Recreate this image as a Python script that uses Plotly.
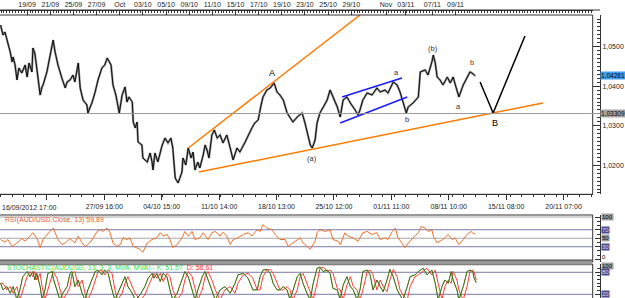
import plotly.graph_objects as go
from datetime import datetime, timedelta

# ---------------- data (hourly bar index since 16/09/2012 17:00) ----------------
price_bar = [0, 5, 9, 15, 20, 24, 26, 30, 34, 38,
             44, 51, 55, 59, 65, 67, 71, 75, 82, 86,
             88, 96, 102, 109, 113, 119, 127, 134, 138, 144,
             150, 154, 161, 165, 171, 179, 181, 190, 196, 202,
             210, 216, 221, 229, 233, 239, 246, 252, 258, 262,
             266, 273, 275, 279, 283, 285, 293, 295, 304, 310,
             314, 316, 320, 326, 335, 341, 347, 353, 357, 360,
             362, 368, 372, 376, 378, 384, 389, 395, 399, 403,
             409, 413, 420, 424, 428, 432, 438, 443, 449, 455,
             461, 469, 476, 482, 490, 496, 507, 515, 521, 527,
             534, 540, 544, 552, 559, 567, 573, 579, 586, 594,
             600, 606, 615, 625, 631, 637, 642, 646, 652, 656,
             662, 669, 677, 683, 689, 698, 704, 710, 718, 725,
             735, 741, 745, 751, 760, 770, 780, 787, 797, 803,
             814, 822, 828, 834, 841, 845, 855, 866, 870, 880,
             886, 894, 897, 901, 905, 911, 917, 926, 932, 938,
             946, 950, 959, 967, 973, 977, 984]
price = [1.05549, 1.05296, 1.05372, 1.05119, 1.04866, 1.04613, 1.04739, 1.04537, 1.04158, 1.04461,
         1.04335, 1.04537, 1.04233, 1.04588, 1.04360, 1.04967, 1.04841, 1.04461, 1.03778, 1.03981,
         1.04031, 1.04360, 1.04714, 1.05169, 1.04866, 1.04537, 1.04208, 1.03955, 1.04107, 1.04158,
         1.04284, 1.04107, 1.04588, 1.03955, 1.03652, 1.03525, 1.03323, 1.03601, 1.03854, 1.04158,
         1.04461, 1.04537, 1.04714, 1.04537, 1.04031, 1.03778, 1.03323, 1.03778, 1.03981, 1.03601,
         1.03728, 1.03601, 1.03095, 1.02945, 1.03095, 1.02589, 1.02513, 1.02184, 1.02083, 1.02311,
         1.02083, 1.01881, 1.02311, 1.02083, 1.02513, 1.02690, 1.02564, 1.02690, 1.02437, 1.01931,
         1.01678, 1.01552, 1.01678, 1.01830, 1.02184, 1.02007, 1.02437, 1.02184, 1.02336, 1.01881,
         1.02083, 1.01931, 1.02260, 1.02513, 1.02387, 1.02184, 1.02766, 1.02893, 1.02690, 1.02766,
         1.02564, 1.02766, 1.02437, 1.02134, 1.02437, 1.02336, 1.02589, 1.02817, 1.02945, 1.03070,
         1.03146, 1.03525, 1.03728, 1.03905, 1.03955, 1.04082, 1.03854, 1.03778, 1.03652, 1.03323,
         1.03222, 1.03095, 1.03222, 1.03323, 1.03070, 1.02716, 1.02513, 1.02437, 1.02640, 1.03070,
         1.03323, 1.03475, 1.03652, 1.03905, 1.03728, 1.03475, 1.03222, 1.03652, 1.03728, 1.03576,
         1.03399, 1.03272, 1.03399, 1.03652, 1.03829, 1.03778, 1.03955, 1.03854, 1.03905, 1.03829,
         1.04107, 1.04031, 1.03854, 1.03576, 1.03323, 1.03475, 1.03576, 1.03728, 1.04360, 1.04411,
         1.04284, 1.04613, 1.04790, 1.04588, 1.04233, 1.04158, 1.04031, 1.04233, 1.04082, 1.04233,
         1.03905, 1.03728, 1.04031, 1.04208, 1.04360, 1.04335, 1.04261]

rsi_bar = [0, 9, 15, 24, 34, 44, 51, 61, 67, 75, 82, 88, 96, 102, 109, 113, 119, 127, 134, 144,
           154, 161, 169, 175, 181, 190, 200, 206, 212, 221, 227, 233, 241, 248, 254, 262, 268, 275, 283, 289,
           295, 304, 314, 324, 331, 337, 345, 351, 357, 366, 376, 382, 389, 397, 403, 413, 420, 430, 438, 445,
           455, 461, 469, 476, 482, 492, 503, 513, 521, 532, 538, 544, 552, 563, 569, 579, 590, 596, 606, 617,
           621, 627, 642, 652, 656, 662, 673, 683, 689, 700, 704, 714, 720, 731, 741, 751, 760, 770, 780, 787,
           797, 803, 812, 818, 824, 832, 838, 845, 855, 866, 872, 880, 886, 894, 897, 905, 911, 917, 928, 936,
           942, 950, 959, 967, 975, 979, 984]
rsi = [47, 41, 47, 31, 39, 49, 43, 55, 63, 51, 28, 47, 59, 66, 74, 63, 47, 35, 39, 49,
       39, 55, 39, 31, 35, 47, 66, 70, 66, 74, 63, 39, 31, 35, 51, 47, 51, 31, 28, 24,
       17, 39, 47, 51, 63, 55, 59, 47, 28, 35, 51, 66, 55, 66, 47, 51, 63, 47, 63, 66,
       55, 64, 55, 35, 47, 51, 59, 63, 55, 70, 66, 82, 74, 70, 59, 47, 47, 31, 39, 47,
       51, 39, 24, 43, 63, 70, 66, 70, 47, 43, 35, 63, 55, 51, 43, 63, 66, 59, 63, 47,
       51, 47, 66, 74, 51, 39, 28, 39, 51, 63, 78, 74, 66, 70, 55, 39, 43, 47, 59, 47,
       51, 35, 47, 59, 66, 62, 59.89]

stoch_bar = [0, 5, 13, 20, 26, 34, 40, 46, 55, 61, 67, 71, 75, 82, 86, 92, 98, 107, 109, 117,
             123, 129, 138, 144, 148, 154, 161, 169, 175, 181, 190, 196, 202, 210, 216, 223, 231, 237, 243, 252,
             258, 264, 273, 279, 289, 299, 306, 314, 318, 324, 331, 337, 345, 351, 357, 366, 376, 382, 389, 397,
             403, 409, 418, 424, 430, 438, 445, 455, 465, 476, 486, 492, 503, 513, 523, 532, 538, 544, 552, 559,
             565, 573, 579, 586, 594, 600, 606, 615, 621, 627, 635, 642, 648, 656, 662, 669, 677, 683, 689, 698,
             704, 710, 718, 725, 731, 739, 745, 751, 760, 766, 772, 780, 787, 793, 801, 807, 814, 822, 828, 834,
             843, 849, 859, 866, 876, 884, 894, 901, 907, 915, 921, 928, 934, 938, 946, 950, 959, 967, 973, 979,
             981, 986]
stoch_k = [50, 32, 41, 23, 41, 5, 32, 68, 82, 68, 82, 59, 77, 41, 5, 32, 77, 82, 64, 32,
           5, 23, 41, 77, 82, 41, 59, 23, 5, 32, 59, 82, 86, 73, 86, 77, 32, 5, 23, 50,
           68, 41, 23, 5, 18, 41, 64, 77, 64, 77, 55, 77, 68, 32, 5, 23, 59, 82, 68, 32,
           5, 32, 68, 82, 59, 32, 5, 32, 41, 23, 50, 73, 77, 64, 32, 32, 68, 86, 88, 77,
           50, 32, 32, 41, 32, 5, 32, 68, 77, 50, 23, 5, 50, 91, 94, 82, 86, 77, 36, 32,
           5, 45, 68, 41, 32, 5, 32, 82, 86, 73, 32, 59, 41, 27, 59, 88, 68, 32, 18, 5,
           41, 68, 73, 82, 91, 73, 86, 50, 5, 41, 59, 50, 82, 59, 32, 5, 41, 82, 86, 82,
           66, 51.57]
stoch_d = [50, 50, 32, 41, 23, 41, 5, 32, 68, 82, 68, 82, 59, 77, 41, 5, 32, 77, 82, 64,
           32, 5, 23, 41, 77, 82, 41, 59, 23, 5, 32, 59, 82, 86, 73, 86, 77, 32, 5, 23,
           50, 68, 41, 23, 5, 18, 41, 64, 77, 64, 77, 55, 77, 68, 32, 5, 23, 59, 82, 68,
           32, 5, 32, 68, 82, 59, 32, 5, 32, 41, 23, 50, 73, 77, 64, 32, 32, 68, 86, 88,
           77, 50, 32, 32, 41, 32, 5, 32, 68, 77, 50, 23, 5, 50, 91, 94, 82, 86, 77, 36,
           32, 5, 45, 68, 41, 32, 5, 32, 82, 86, 73, 32, 59, 41, 27, 59, 88, 68, 32, 18,
           5, 41, 68, 73, 82, 91, 73, 86, 50, 5, 41, 59, 50, 82, 59, 32, 5, 41, 82, 86,
           82, 58.61]

# drawn analysis objects (bar, price)
orange_upper_bar = [389, 745]
orange_upper_px = [1.02437, 1.05802]
orange_lower_bar = [411, 1124]
orange_lower_px = [1.01830, 1.03576]
blue_upper_bar = [708, 832]
blue_upper_px = [1.03728, 1.04208]
blue_lower_bar = [704, 843]
blue_lower_px = [1.03070, 1.03728]
proj_bar = [994, 1021, 1087]
proj_px = [1.04107, 1.03323, 1.05271]

wave_text = ["A", "(a)", "a", "b", "(b)", "a", "b", "B"]
wave_bar = [563, 646, 820, 842, 896, 950, 977, 1025]
wave_px = [1.04335, 1.02182, 1.04335, 1.03146, 1.04942, 1.03475, 1.04588, 1.03070]
wave_color = ["#000000", "#333333", "#333333", "#333333", "#333333", "#333333", "#8a2a10", "#000000"]
wave_size = [9, 7.5, 7.5, 7.5, 7.5, 7.5, 7.5, 9]

last_price = 1.04261
level_price = 1.03309
price_ticks = [1.02, 1.03, 1.04, 1.05]
price_tick_text = ["1,0200", "1,0300", "1,0400", "1,0500"]

top_tick_dates = ["2012-09-19", "2012-09-21", "2012-09-25", "2012-09-27", "2012-10-01", "2012-10-03",
                  "2012-10-05", "2012-10-09", "2012-10-11", "2012-10-15", "2012-10-17", "2012-10-19",
                  "2012-10-23", "2012-10-25", "2012-10-29", "2012-11-01", "2012-11-03", "2012-11-07",
                  "2012-11-09"]
top_tick_text = ["19/09", "21/09", "25/09", "27/09", "Oct", "03/10", "05/10", "09/10", "11/10", "15/10",
                 "17/10", "19/10", "23/10", "25/10", "29/10", "Nov", "03/11", "07/11", "09/11"]
bottom_tick_bars = [96, 215, 334, 453, 572, 691, 810, 929, 1048, 1167]
bottom_tick_text = ["", "27/09 16:00", "04/10 15:00", "11/10 14:00", "18/10 13:00", "25/10 12:00",
                    "01/11 11:00", "08/11 10:00", "15/11 08:00", "20/11 07:00"]
first_label = "16/09/2012 17:00"

rsi_levels = [100, 70, 50, 30, 0]
stoch_levels = [100, 80, 20]
rsi_title = "RSI(AUD/USD,Close, 13) 59,89"
stoch_title_k = "STOCHASTIC(AUDUSD, 13, 3, 3, MVA, MVA) - K: 51,57"
stoch_title_d = "D: 58,61"

START = datetime(2012, 9, 16, 17)


def trading_bar(day):
    d = datetime.strptime(day, "%Y-%m-%d")
    t, h = START, 0
    while t < d:
        wd = t.weekday()
        closed = (wd == 4 and t.hour >= 17) or wd == 5 or (wd == 6 and t.hour < 17)
        if not closed:
            h += 1
        t += timedelta(hours=1)
    return h


top_tick_bars = [trading_bar(d) for d in top_tick_dates]

# ---------------- layout geometry ----------------
W, H = 625, 298
MT, MB, ML, MR = 10, 0, 0, 25
PH = H - MT - MB
PW = W - ML - MR


def py(ypx):
    return (H - MB - ypx) / PH


def px(xpx):
    return (xpx - ML) / PW


XR = px(592.7)
MAIN_DOM = [py(194.3), py(15)]
RSI_DOM = [py(262), py(215)]
STO_DOM = [0, py(264)]
FONT = "Liberation Sans"
AX = "#333333"

fig = go.Figure()

# price
fig.add_trace(go.Scatter(x=price_bar, y=price, mode="lines", line=dict(color="#8c8c8c", width=2.2),
                         xaxis="x", yaxis="y", hoverinfo="skip"))
fig.add_trace(go.Scatter(x=price_bar, y=price, mode="lines", line=dict(color="#000000", width=0.9),
                         xaxis="x", yaxis="y"))
fig.add_trace(go.Scatter(x=price_bar[:1], y=price[:1], mode="markers", marker=dict(opacity=0),
                         xaxis="x2", yaxis="y", hoverinfo="skip"))
# analysis lines
for bx, by, col in [(orange_upper_bar, orange_upper_px, "#ff7a00"),
                    (orange_lower_bar, orange_lower_px, "#ff7a00"),
                    (blue_upper_bar, blue_upper_px, "#1a1aff"),
                    (blue_lower_bar, blue_lower_px, "#1a1aff"),
                    (proj_bar, proj_px, "#000000")]:
    fig.add_trace(go.Scatter(x=bx, y=by, mode="lines", line=dict(color=col, width=1.5),
                             xaxis="x", yaxis="y", hoverinfo="skip"))

# RSI
fig.add_trace(go.Scatter(x=rsi_bar, y=rsi, mode="lines", line=dict(color="#f0702c", width=1),
                         xaxis="x3", yaxis="y2"))
# Stochastic
fig.add_trace(go.Scatter(x=stoch_bar, y=stoch_d, mode="lines", line=dict(color="#ff3a3a", width=1.0),
                         xaxis="x4", yaxis="y3"))
fig.add_trace(go.Scatter(x=stoch_bar, y=stoch_k, mode="lines", line=dict(color="#3ae03a", width=1.0),
                         xaxis="x4", yaxis="y3"))
fig.add_trace(go.Scatter(x=stoch_bar, y=stoch_k, mode="lines", line=dict(color="#5a4510", width=0.8),
                         xaxis="x4", yaxis="y3"))

shapes = []
# frames (left edge pushed off-canvas)
for y0, y1 in [(194.3, 15), (262, 215), (300, 264)]:
    shapes.append(dict(type="rect", xref="paper", yref="paper", x0=-0.01, x1=XR,
                       y0=py(y0), y1=py(y1), line=dict(color=AX, width=1)))
shapes.append(dict(type="line", xref="paper", yref="paper", x0=-0.01, x1=1, y0=py(10), y1=py(10),
                   line=dict(color=AX, width=1)))
shapes.append(dict(type="line", xref="paper", yref="paper", x0=-0.01, x1=XR, y0=py(260.5), y1=py(260.5),
                   line=dict(color="#666666", width=1)))
# level line
shapes.append(dict(type="line", xref="paper", yref="y", x0=0, x1=1, y0=level_price, y1=level_price,
                   line=dict(color="#999999", width=1)))
# RSI / stochastic levels
for lv in rsi_levels:
    c = "#7a7aa8" if lv in (70, 30) else "#a8a8a8"
    shapes.append(dict(type="line", xref="paper", yref="y2", x0=0, x1=XR, y0=lv, y1=lv,
                       line=dict(color=c, width=1), layer="below"))
for lv in stoch_levels:
    c = "#7a7aa8" if lv in (80, 20) else "#a8a8a8"
    shapes.append(dict(type="line", xref="paper", yref="y3", x0=0, x1=XR, y0=lv, y1=lv,
                       line=dict(color=c, width=1), layer="below"))

ann = []
for t, b, p, c, s in zip(wave_text, wave_bar, wave_px, wave_color, wave_size):
    ann.append(dict(x=b, y=p, xref="x", yref="y", text=t, showarrow=False, yanchor="middle",
                    font=dict(family=FONT, size=s, color=c)))
ann.append(dict(x=1.0, y=last_price, xref="paper", yref="y", text="1,04261", showarrow=False,
                xanchor="left", yanchor="middle", bgcolor="#3ea0f4",
                font=dict(family=FONT, size=6.5, color="#000000"), borderpad=0, xshift=0))
ann.append(dict(x=1.0, y=level_price, xref="paper", yref="y", text="1,03309", showarrow=False,
                xanchor="left", yanchor="middle", bgcolor="#a6a6a6",
                font=dict(family=FONT, size=6.5, color="#000000"), borderpad=0, xshift=0))
ann.append(dict(x=0, y=py(207), xref="paper", yref="paper", text=first_label, showarrow=False,
                xanchor="left", yanchor="middle", font=dict(family=FONT, size=7, color="#222222")))
ann.append(dict(x=px(3), y=py(219.5), xref="paper", yref="paper", text=rsi_title, showarrow=False,
                xanchor="left", yanchor="middle", font=dict(family=FONT, size=7, color="#e8602c")))
ann.append(dict(x=px(5), y=py(268), xref="paper", yref="paper",
                text=f"<span style='color:#3ae03a'>{stoch_title_k}</span>  "
                     f"<span style='color:#ff3b3b'>{stoch_title_d}</span>",
                showarrow=False, xanchor="left", yanchor="middle", font=dict(family=FONT, size=7)))
for lv in rsi_levels:
    ys = 0
    if lv in (70, 30):
        bg, fc = "#4a4a96", "#dcdcf0"
    elif lv == 0:
        bg, fc, ys = "rgba(0,0,0,0)", "#000000", 2
    else:
        bg, fc = "#a0a0a0", "#000000"
    ann.append(dict(x=1.0, y=lv, xref="paper", yref="y2", text=str(lv), showarrow=False, xanchor="left",
                    yanchor="middle", bgcolor=bg, borderpad=0, xshift=1, yshift=ys,
                    font=dict(family=FONT, size=6, color=fc)))
for lv in stoch_levels:
    ys = 0
    if lv in (80, 20):
        bg, fc = "#4a4a96", "#dcdcf0"
    else:
        bg, fc, ys = "#a0a0a0", "#000000", -1.5
    ann.append(dict(x=1.0, y=lv, xref="paper", yref="y3", text=str(lv), showarrow=False, xanchor="left",
                    yanchor="middle", bgcolor=bg, borderpad=0, xshift=1, yshift=ys,
                    font=dict(family=FONT, size=6, color=fc)))

fig.update_layout(
    width=W, height=H, margin=dict(l=ML, r=MR, t=MT, b=MB, pad=0),
    paper_bgcolor="#ffffff", plot_bgcolor="#ffffff", showlegend=False,
    font=dict(family=FONT, size=7, color="#222222"),
    shapes=shapes, annotations=ann,
    xaxis=dict(domain=[0, XR], anchor="y", range=[-1.2, 1227.4], tickmode="array",
               tickvals=bottom_tick_bars, ticktext=bottom_tick_text, ticks="outside", ticklen=5,
               tickcolor=AX, showgrid=False, zeroline=False, showline=True, linecolor=AX,
               ticklabelstandoff=0,
               minor=dict(tickmode="linear", tick0=96, dtick=24, ticks="outside", ticklen=2, tickcolor=AX)),
    xaxis2=dict(overlaying="x", matches="x", side="top", anchor="free", position=1,
                tickmode="array", tickvals=top_tick_bars, ticktext=top_tick_text, ticks="inside",
                ticklen=4, tickcolor=AX, showgrid=False, zeroline=False, showline=True, linecolor=AX,
                minor=dict(tickmode="linear", tick0=7, dtick=6, ticks="inside", ticklen=2, tickcolor=AX)),
    xaxis3=dict(domain=[0, XR], anchor="y2", matches="x", showticklabels=False, ticks="",
                showgrid=False, zeroline=False, showline=False),
    xaxis4=dict(domain=[0, XR], anchor="y3", matches="x", showticklabels=False, ticks="",
                showgrid=False, zeroline=False, showline=False),
    yaxis=dict(domain=MAIN_DOM, range=[1.01266, 1.05802], side="right", anchor="free", position=1,
               tickmode="array", tickvals=price_ticks, ticktext=price_tick_text, ticks="inside",
               ticklen=7, tickcolor=AX, showline=True, linecolor=AX, showgrid=False, zeroline=False,
               minor=dict(tickmode="linear", tick0=1.0, dtick=0.001, ticks="inside", ticklen=3,
                          tickcolor=AX)),
    yaxis2=dict(domain=RSI_DOM, range=[-5.9, 104.7], side="right", anchor="free", position=1,
                showticklabels=False, ticks="inside", tickmode="array", tickvals=rsi_levels,
                ticklen=5, tickcolor=AX, showline=True, linecolor=AX, showgrid=False, zeroline=False,
                minor=dict(tickmode="linear", tick0=0, dtick=10, ticks="inside", ticklen=3, tickcolor=AX)),
    yaxis3=dict(domain=STO_DOM, range=[9.9, 102.6], side="right", anchor="free", position=1,
                showticklabels=False, ticks="inside", tickmode="array", tickvals=stoch_levels,
                ticklen=5, tickcolor=AX, showline=True, linecolor=AX, showgrid=False, zeroline=False,
                minor=dict(tickmode="linear", tick0=0, dtick=10, ticks="inside", ticklen=3, tickcolor=AX)),
)

fig.write_html("out.html")
